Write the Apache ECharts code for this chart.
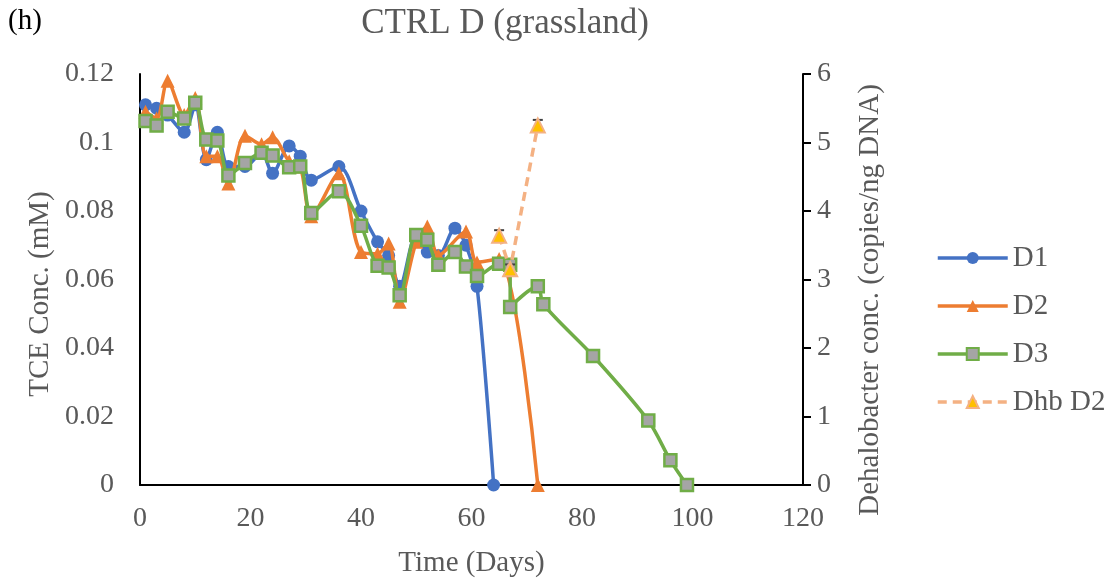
<!DOCTYPE html>
<html>
<head>
<meta charset="utf-8">
<script src="https://cdn.jsdelivr.net/npm/echarts@6/dist/echarts.min.js"></script>
<style>
  html, body { margin: 0; padding: 0; background: #fff; }
  #chart { width: 1111px; height: 583px; }
</style>
</head>
<body>
<div id="chart"></div>
<script>
// sampling days and TCE conc. (mM) per microcosm
var daysD1 = [1, 3, 5, 8, 10, 12, 14, 16, 19, 22, 24, 27, 29, 31, 36, 40, 43, 45, 47, 50, 52, 54, 57, 59, 61, 64];
var tceD1 = [0.111, 0.110, 0.108, 0.103, 0.111, 0.095, 0.103, 0.093, 0.093, 0.097, 0.091, 0.099, 0.096, 0.089, 0.093, 0.080, 0.071, 0.067, 0.058, 0.073, 0.068, 0.067, 0.075, 0.070, 0.058, 0];

var daysD2 = [1, 3, 5, 8, 10, 12, 14, 16, 19, 22, 24, 27, 29, 31, 36, 40, 43, 45, 47, 50, 52, 54, 59, 61, 65, 72];
var tceD2 = [0.109, 0.107, 0.118, 0.108, 0.113, 0.096, 0.096, 0.088, 0.102, 0.0995, 0.1015, 0.0945, 0.093, 0.0785, 0.091, 0.068, 0.0675, 0.0705, 0.0535, 0.071, 0.0755, 0.067, 0.074, 0.065, 0.066, 0];

var daysD3 = [1, 3, 5, 8, 10, 12, 14, 16, 19, 22, 24, 27, 29, 31, 36, 40, 43, 45, 47, 50, 52, 54, 57, 59, 61, 65, 67, 67, 72, 73, 82, 92, 96, 99];
var tceD3 = [0.1063, 0.105, 0.109, 0.107, 0.1116, 0.1009, 0.1006, 0.0904, 0.094, 0.097, 0.0962, 0.0928, 0.093, 0.0794, 0.0858, 0.0757, 0.064, 0.0635, 0.0554, 0.073, 0.0716, 0.0643, 0.068, 0.0638, 0.061, 0.0646, 0.0643, 0.052, 0.058, 0.0528, 0.0377, 0.0188, 0.0072, 0];

// Dehalobacter copies/ng DNA in D2, with error
var daysDhb = [65, 67, 72];
var dhbD2 = [3.64, 3.15, 5.25];
var dhbErr = [0.08, 0.07, 0.08];

var xTicks = [0, 20, 40, 60, 80, 100, 120];
var leftTicks = [0, 0.02, 0.04, 0.06, 0.08, 0.1, 0.12];
var rightTicks = [0, 1, 2, 3, 4, 5, 6];

function pairs(xs, ys) {
  return xs.map(function (x, i) { return [x, ys[i]]; });
}

var FONT = '"Liberation Serif", "Times New Roman", serif';
var GREY = '#595959';

var chart = echarts.init(document.getElementById('chart'));

var option = {
  animation: false,
  backgroundColor: '#fff',
  textStyle: { fontFamily: FONT },
  grid: { left: 140, right: 308, top: 74, bottom: 95 },
  graphic: [
    { type: 'text', left: 8, top: 7, style: { text: '(h)', font: '29px ' + FONT, fill: '#000' } },
    { type: 'text', x: 505, y: 24, style: { text: 'CTRL D (grassland)', font: '35px ' + FONT, fill: GREY, align: 'center', verticalAlign: 'middle' } },
    { type: 'text', x: 40, y: 294, rotation: Math.PI / 2, style: { text: 'TCE Conc. (mM)', font: '29px ' + FONT, fill: GREY, align: 'center', verticalAlign: 'middle' } },
    { type: 'text', x: 870, y: 300, rotation: Math.PI / 2, style: { text: 'Dehalobacter conc. (copies/ng DNA)', font: '29px ' + FONT, fill: GREY, align: 'center', verticalAlign: 'middle' } }
  ],
  legend: {
    orient: 'vertical',
    left: 931,
    top: 238,
    itemWidth: 70,
    itemHeight: 15,
    itemGap: 18,
    lineStyle: { width: 3.5 },
    textStyle: { fontFamily: FONT, fontSize: 29, color: GREY, lineHeight: 30 },
    data: ['D1', 'D2', 'D3', 'Dhb D2']
  },
  xAxis: {
    type: 'value',
    min: 0,
    max: 120,
    interval: 20,
    name: 'Time (Days)',
    nameLocation: 'middle',
    nameGap: 64,
    nameTextStyle: { fontFamily: FONT, fontSize: 29, color: GREY },
    axisLine: { lineStyle: { color: '#000', width: 2 } },
    axisTick: { show: false },
    splitLine: { show: false },
    axisLabel: { fontFamily: FONT, fontSize: 28, color: GREY, margin: 20,
      formatter: function (v) { return xTicks.indexOf(v) >= 0 ? String(v) : ''; } }
  },
  yAxis: [
    {
      type: 'value',
      min: 0,
      max: 0.12,
      interval: 0.02,
      axisLine: { show: true, lineStyle: { color: '#000', width: 2 } },
      axisTick: { show: false },
      splitLine: { show: false },
      axisLabel: { fontFamily: FONT, fontSize: 28, color: GREY, margin: 26,
        formatter: function (v) {
          var t = leftTicks.filter(function (k) { return Math.abs(k - v) < 1e-9; })[0];
          return t === undefined ? '' : String(t);
        } }
    },
    {
      type: 'value',
      min: 0,
      max: 6,
      interval: 1,
      position: 'right',
      axisLine: { show: true, lineStyle: { color: '#000', width: 2 } },
      axisTick: { show: true, inside: false, length: 8, lineStyle: { color: '#000', width: 2 } },
      splitLine: { show: false },
      axisLabel: { fontFamily: FONT, fontSize: 28, color: GREY, margin: 14,
        formatter: function (v) { return rightTicks.indexOf(v) >= 0 ? String(v) : ''; } }
    }
  ],
  series: [
    {
      name: 'D1', type: 'line', smooth: 0.3, z: 2,
      data: pairs(daysD1, tceD1),
      symbol: 'circle', symbolSize: 13,
      lineStyle: { color: '#4472C4', width: 3.5 },
      itemStyle: { color: '#4472C4' }
    },
    {
      name: 'D2', type: 'line', smooth: 0.3, z: 3,
      data: pairs(daysD2, tceD2),
      symbol: 'triangle', symbolSize: 14,
      lineStyle: { color: '#ED7D31', width: 3.5 },
      itemStyle: { color: '#ED7D31' }
    },
    {
      name: 'D3', type: 'line', smooth: 0.3, z: 4,
      data: pairs(daysD3, tceD3),
      symbol: 'rect', symbolSize: 12,
      lineStyle: { color: '#70AD47', width: 3.5 },
      itemStyle: { color: '#A5A5A5', borderColor: '#70AD47', borderWidth: 2.5 }
    },
    {
      name: 'errDhb', type: 'custom', yAxisIndex: 1, z: 5, silent: true,
      data: daysDhb.map(function (d, i) { return [d, dhbD2[i], dhbErr[i]]; }),
      renderItem: function (params, api) {
        var x = api.value(0), y = api.value(1), e = api.value(2);
        var top = api.coord([x, y + e]);
        var bot = api.coord([x, y - e]);
        var st = { stroke: '#404040', lineWidth: 2 };
        return {
          type: 'group',
          children: [
            { type: 'line', shape: { x1: top[0], y1: top[1], x2: bot[0], y2: bot[1] }, style: st },
            { type: 'line', shape: { x1: top[0] - 5, y1: top[1], x2: top[0] + 5, y2: top[1] }, style: st },
            { type: 'line', shape: { x1: bot[0] - 5, y1: bot[1], x2: bot[0] + 5, y2: bot[1] }, style: st }
          ]
        };
      }
    },
    {
      name: 'Dhb D2', type: 'line', yAxisIndex: 1, z: 6,
      data: pairs(daysDhb, dhbD2),
      symbol: 'triangle', symbolSize: 14,
      lineStyle: { color: '#F4B183', width: 3.5, type: [9, 6] },
      itemStyle: { color: '#FFC000', borderColor: '#F4B183', borderWidth: 2 }
    }
  ]
};

chart.setOption(option);
</script>
</body>
</html>
